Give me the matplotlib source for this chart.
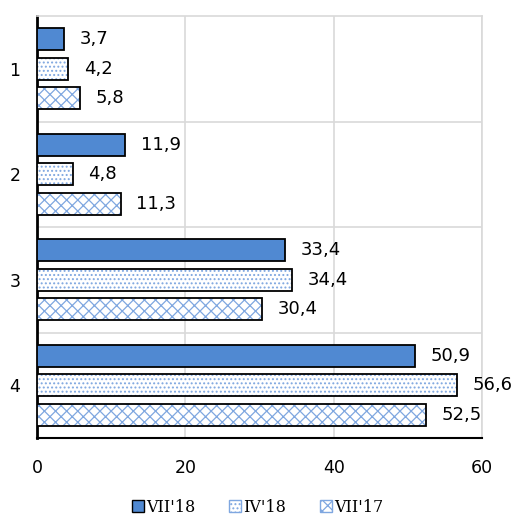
import matplotlib
matplotlib.use("Agg")
import matplotlib.pyplot as plt
from matplotlib.patches import Patch
import numpy as np

categories = ["1", "2", "3", "4"]
series_names = ["VII'18", "IV'18", "VII'17"]
vii18 = [3.7, 11.9, 33.4, 50.9]
iv18 = [4.2, 4.8, 34.4, 56.6]
vii17 = [5.8, 11.3, 30.4, 52.5]
xticks = [0, 20, 40, 60]

blue = "#5089D2"
hatch_blue = "#7FA7E0"

fig = plt.figure(figsize=(5.15, 5.17), dpi=100)
ax = fig.add_axes([37/515, 1-438/517, (482-37)/515, (438-16)/517])

y = np.arange(len(categories))
h = 0.21
off = 0.28
styles = [(vii18, -off, None, blue), (iv18, 0, "....", "white"), (vii17, off, "xxx", "white")]
plt.rcParams['hatch.linewidth'] = 0.9
for vals, o, hatch, fc in styles:
    if hatch is None:
        ax.barh(y + o, vals, height=h, color=fc, edgecolor="black", linewidth=1.3, zorder=3)
    else:
        ax.barh(y + o, vals, height=h, color="white", edgecolor=hatch_blue, hatch=hatch, linewidth=0, zorder=3)
        ax.barh(y + o, vals, height=h, fill=False, edgecolor="black", linewidth=1.3, zorder=4)
    for yi, v in zip(y + o, vals):
        ax.text(v + 2.1, yi, f"{v:.1f}".replace(".", ","), va="center", ha="left",
                fontsize=13, family="DejaVu Sans", zorder=5)

ax.set_ylim(3.5, -0.5)
ax.set_xlim(0, 60)
ax.set_xticks(xticks)
ax.set_xticklabels([str(t) for t in xticks], fontsize=12.5)
ax.set_yticks(y)
ax.set_yticklabels(categories, fontsize=12.5)
ax.tick_params(length=0, pad=12)
ax.tick_params(axis="x", pad=15)
ax.set_yticks([0.5, 1.5, 2.5], minor=True)
ax.tick_params(which="minor", length=0)
ax.grid(True, which="minor", axis="y", color="#D9D9D9", linewidth=1.2, zorder=0)
ax.grid(True, which="major", axis="x", color="#D9D9D9", linewidth=1.2, zorder=0)
for s in ["top", "right"]:
    ax.spines[s].set_color("#D9D9D9")
    ax.spines[s].set_linewidth(1.2)
ax.spines["left"].set_linewidth(2)
ax.spines["bottom"].set_linewidth(1.5)

handles = [Patch(facecolor=blue, edgecolor="black", linewidth=1),
           Patch(facecolor="white", edgecolor=hatch_blue, hatch="....", linewidth=1),
           Patch(facecolor="white", edgecolor=hatch_blue, hatch="xxx", linewidth=1)]
fig.legend(handles, series_names, loc="center", bbox_to_anchor=(0.5, 1 - 507/517), ncol=3,
           frameon=False, prop={"family": "DejaVu Serif", "size": 11.5},
           handlelength=0.75, handleheight=0.75, handletextpad=0.15, columnspacing=2.1)

fig.savefig("out.png", dpi=100)
